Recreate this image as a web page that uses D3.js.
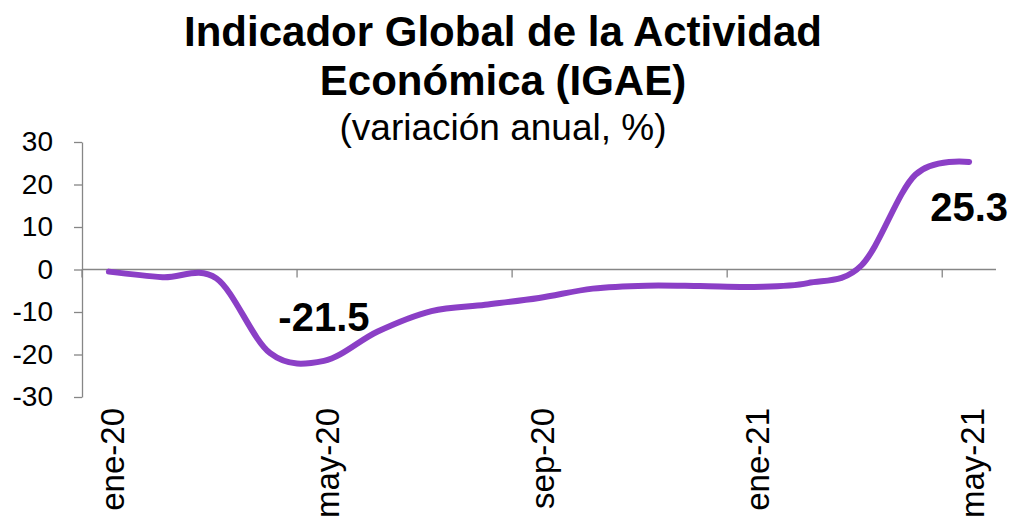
<!DOCTYPE html>
<html>
<head>
<meta charset="utf-8">
<script src="https://cdn.jsdelivr.net/npm/d3@7"></script>
<style>
  body { margin: 0; background: #fff; }
  svg text { font-family: "Liberation Sans", Arial, sans-serif; fill: #000; }
</style>
</head>
<body>
<svg id="chart" width="1015" height="523"></svg>
<script>
// months shown on the category axis
const months = ["ene-20", "feb-20", "mar-20", "abr-20", "may-20", "jun-20", "jul-20", "ago-20",
  "sep-20", "oct-20", "nov-20", "dic-20", "ene-21", "feb-21", "mar-21", "abr-21", "may-21"];
// IGAE, variacion anual (%)
const igae = [-0.5, -1.8, -2.1, -19.7, -21.5, -14.6, -9.8, -8.3, -6.7, -4.5, -3.8, -3.9, -4.1, -3.2, 1.0, 22.3, 25.3];
const yTicks = [-30, -20, -10, 0, 10, 20, 30];
const labelEvery = 4;
const callouts = [
  { month: "may-20", text: "-21.5", pos: "above" },
  { month: "may-21", text: "25.3", pos: "below" }
];

const svg = d3.select("#chart");
const axisColor = "#868686";
const lineColor = "#8B3FC6";

const x = d3.scaleBand().domain(months).range([82, 996]).padding(0);
const y = d3.scaleLinear().domain([-30, 30]).range([397, 142]);
const cx = m => x(m) + x.bandwidth() / 2;

// Title
const title = svg.append("g").attr("text-anchor", "middle");
title.append("text").attr("x", 503).attr("y", 46)
  .style("font-size", "42px").style("font-weight", "bold")
  .text("Indicador Global de la Actividad");
title.append("text").attr("x", 503).attr("y", 95)
  .style("font-size", "42px").style("font-weight", "bold")
  .text("Económica (IGAE)");
title.append("text").attr("x", 503).attr("y", 140)
  .style("font-size", "37px")
  .text("(variación anual, %)");

// Y axis
const yAxis = svg.append("g")
  .attr("transform", `translate(82,0)`)
  .call(d3.axisLeft(y).tickValues(yTicks).tickSize(8).tickSizeOuter(0).tickPadding(21)
    .tickFormat(d => String(d)));
yAxis.select(".domain").attr("stroke", axisColor).attr("stroke-width", 1.3);
yAxis.selectAll(".tick line").attr("stroke", axisColor).attr("stroke-width", 1.3);
yAxis.selectAll(".tick text")
  .style("font-size", "28px")
  .style("font-family", "'Liberation Sans', Arial, sans-serif")
  .attr("fill", "#000");

// X axis (at zero)
const xAxis = svg.append("g");
xAxis.append("line")
  .attr("x1", x.range()[0]).attr("x2", x.range()[1])
  .attr("y1", y(0)).attr("y2", y(0))
  .attr("stroke", axisColor).attr("stroke-width", 1.3);

const shown = months.filter((m, i) => i % labelEvery === 0);
xAxis.selectAll(".xtick")
  .data(shown)
  .enter().append("line")
  .attr("class", "xtick")
  .attr("x1", d => x(d)).attr("x2", d => x(d))
  .attr("y1", y(0)).attr("y2", y(0) + 8)
  .attr("stroke", axisColor).attr("stroke-width", 1.3);

// category labels at the bottom, rotated
xAxis.selectAll(".xlabel")
  .data(shown)
  .enter().append("text")
  .attr("class", "xlabel")
  .attr("transform", d => `translate(${cx(d)},${y(-30) + 11}) rotate(-90)`)
  .attr("text-anchor", "end")
  .attr("dy", "0.46em")
  .style("font-size", "33px")
  .text(d => d);

// Line
const line = d3.line()
  .x((d, i) => cx(months[i]))
  .y(d => y(d))
  .curve(d3.curveCardinal.tension(0));

svg.append("path")
  .datum(igae)
  .attr("d", line)
  .attr("fill", "none")
  .attr("stroke", lineColor)
  .attr("stroke-width", 6)
  .attr("stroke-linecap", "round")
  .attr("stroke-linejoin", "round");

// Data labels
svg.selectAll(".callout")
  .data(callouts)
  .enter().append("text")
  .attr("class", "callout")
  .attr("x", d => cx(d.month))
  .attr("y", d => {
    const v = igae[months.indexOf(d.month)];
    return d.pos === "above" ? y(v) - 30 : y(v) + 59;
  })
  .attr("text-anchor", "middle")
  .style("font-size", "40px")
  .style("font-weight", "bold")
  .text(d => d.text);
</script>
</body>
</html>
